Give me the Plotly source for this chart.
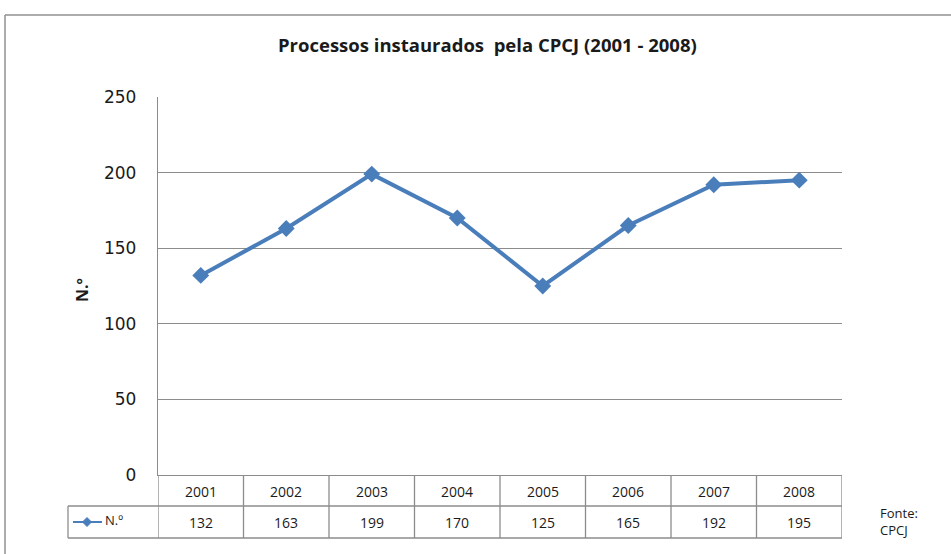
import plotly.graph_objects as go

years = ["2001", "2002", "2003", "2004", "2005", "2006", "2007", "2008"]
values = [132, 163, 199, 170, 125, 165, 192, 195]
series_name = "N.º"
y_ticks = [0, 50, 100, 150, 200, 250]
title_text = "Processos instaurados\u00a0\u00a0pela CPCJ (2001 - 2008)"
source_text = "Fonte:<br>CPCJ"

W, H = 951, 554
L, R, T, B = 158, 842, 97, 475
pw, ph = R - L, B - T

def px(x):
    return (x - L) / pw

def py(y):
    return (B - y) / ph

LINE = "#4a7ebb"
GRID = "#8c8c8c"
TXT = "#1a1a1a"
FONT = "Open Sans"

fig = go.Figure()
fig.add_trace(go.Scatter(
    x=years, y=values, mode="lines+markers", name=series_name,
    line=dict(color=LINE, width=4),
    marker=dict(symbol="diamond", size=13, color=LINE),
    showlegend=False, cliponaxis=False,
))

shapes = []
ln = dict(color=GRID, width=1.3)
# outer frame
shapes.append(dict(type="line", xref="paper", yref="paper", x0=px(5), x1=px(W + 5), y0=py(15), y1=py(15), line=dict(color="#909090", width=1.5)))
shapes.append(dict(type="line", xref="paper", yref="paper", x0=px(5), x1=px(5), y0=py(15), y1=py(H + 5), line=dict(color="#909090", width=1.5)))
# table horizontal lines
r1, r2 = 506, 538
shapes.append(dict(type="line", xref="paper", yref="paper", x0=px(68), x1=1, y0=py(r1), y1=py(r1), line=ln))
shapes.append(dict(type="line", xref="paper", yref="paper", x0=px(68), x1=1, y0=py(r2), y1=py(r2), line=ln))
shapes.append(dict(type="line", xref="paper", yref="paper", x0=px(68), x1=px(68), y0=py(r1), y1=py(r2), line=ln))
# vertical column boundaries
for i in range(len(years) + 1):
    shapes.append(dict(type="line", xref="x", yref="paper", x0=i - 0.5, x1=i - 0.5, y0=0, y1=py(r2), line=ln))
# legend key in table
ky = 522
shapes.append(dict(type="line", xref="paper", yref="paper", x0=px(73), x1=px(102), y0=py(ky), y1=py(ky), line=dict(color=LINE, width=2)))
cx, d = 87, 4.5
shapes.append(dict(type="path", xref="paper", yref="paper",
                   path=f"M {px(cx - d)} {py(ky)} L {px(cx)} {py(ky - d)} L {px(cx + d)} {py(ky)} L {px(cx)} {py(ky + d)} Z",
                   fillcolor=LINE, line=dict(color=LINE, width=1)))

annotations = []
annotations.append(dict(text="<b>" + title_text + "</b>", xref="paper", yref="paper", x=px(487), y=py(45),
                        showarrow=False, font=dict(family=FONT, size=18.5, color=TXT), xanchor="center", yanchor="middle"))
for i, (yr, v) in enumerate(zip(years, values)):
    annotations.append(dict(text=yr, xref="x", yref="paper", x=i, y=py(491), showarrow=False,
                            font=dict(family=FONT, size=14, color=TXT), xanchor="center", yanchor="middle"))
    annotations.append(dict(text=str(v), xref="x", yref="paper", x=i, y=py(522), showarrow=False,
                            font=dict(family=FONT, size=14, color=TXT), xanchor="center", yanchor="middle"))
annotations.append(dict(text=series_name, xref="paper", yref="paper", x=px(103), y=py(520), showarrow=False,
                        font=dict(family=FONT, size=13, color=TXT), xanchor="left", yanchor="middle"))
annotations.append(dict(text=source_text, xref="paper", yref="paper", x=px(878), y=py(521), showarrow=False,
                        font=dict(family=FONT, size=13, color=TXT), xanchor="left", yanchor="middle", align="left"))
annotations.append(dict(text="<b>" + series_name + "</b>", xref="paper", yref="paper", x=px(82), y=py(290), showarrow=False,
                        textangle=-90, font=dict(family=FONT, size=16, color=TXT), xanchor="center", yanchor="middle"))

fig.update_layout(
    width=W, height=H,
    margin=dict(l=L, r=W - R, t=T, b=H - B),
    paper_bgcolor="white", plot_bgcolor="white",
    shapes=shapes, annotations=annotations,
    xaxis=dict(type="category", range=[-0.5, len(years) - 0.5], showticklabels=False, showgrid=False,
               zeroline=False, showline=True, linecolor=GRID, linewidth=1.3, ticks=""),
    yaxis=dict(range=[0, 250], tickvals=y_ticks, showgrid=True, gridcolor=GRID, gridwidth=1.3,
               zeroline=False, showline=True, linecolor=GRID, linewidth=1.3, ticks="",
               ticklabelstandoff=17, tickfont=dict(family="DejaVu Sans", size=17, color=TXT)),
    showlegend=False,
)
fig.write_html("out.html", config={"displayModeBar": False},
               post_script="document.body.style.margin='0px';document.body.style.padding='0px';")
